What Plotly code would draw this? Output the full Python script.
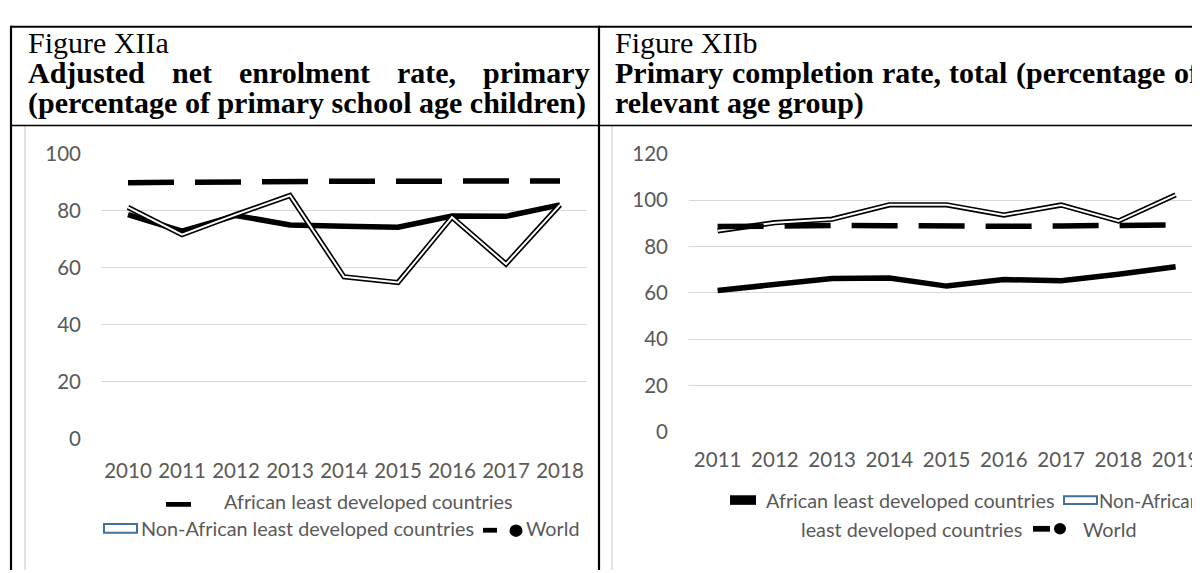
import plotly.graph_objects as go

# ---------------- data ----------------
years_a = ["2010", "2011", "2012", "2013", "2014", "2015", "2016", "2017", "2018"]
african_a = [78.6, 72.8, 78.3, 75.0, 74.5, 74.2, 78.1, 78.0, 82.0]
non_african_a = [81.1, 71.6, 78.6, 85.3, 56.8, 54.8, 77.7, 61.3, 82.0]
world_a = [89.8, 90.0, 90.2, 90.3, 90.3, 90.3, 90.4, 90.5, 90.4]

years_b = ["2011", "2012", "2013", "2014", "2015", "2016", "2017", "2018", "2019"]
african_b = [61.0, 63.7, 66.2, 66.4, 62.9, 65.7, 65.2, 68.0, 71.3]
non_african_b = [86.8, 90.3, 91.8, 98.0, 98.0, 93.6, 97.9, 91.0, 102.3]
world_b = [88.6, 89.1, 89.1, 89.0, 88.7, 88.7, 88.9, 89.0, 89.3]

ticks_a = [0, 20, 40, 60, 80, 100]
ticks_b = [0, 20, 40, 60, 80, 100, 120]

W, H = 1200, 573
OFF = 8  # page body margin offset
def px(x):
    return (x - OFF) / W
def py(y):
    return 1 - (y - OFF) / H

TICK_FONT = dict(family="Lato", size=20.5, color="#595959")
LEG_FONT = dict(family="Lato", size=19.8, color="#595959")
SERIF = "Liberation Serif"

fig = go.Figure()

def add_series(xs, african, non_african, world, xa, ya):
    fig.add_trace(go.Scatter(x=xs, y=african, mode="lines", xaxis=xa, yaxis=ya,
                             line=dict(color="black", width=5.5), showlegend=False))
    fig.add_trace(go.Scatter(x=xs, y=non_african, mode="lines", xaxis=xa, yaxis=ya,
                             line=dict(color="black", width=5.3), showlegend=False))
    fig.add_trace(go.Scatter(x=xs, y=non_african, mode="lines", xaxis=xa, yaxis=ya,
                             line=dict(color="white", width=2), showlegend=False))
    fig.add_trace(go.Scatter(x=xs, y=world, mode="lines", xaxis=xa, yaxis=ya,
                             line=dict(color="black", width=5.5, dash="46px,21px"),
                             showlegend=False))

add_series(years_a, african_a, non_african_a, world_a, "x", "y")
add_series(years_b, african_b, non_african_b, world_b, "x2", "y2")

grid = dict(showgrid=True, gridcolor="#d9d9d9", gridwidth=1.3, zeroline=False,
            showline=False, ticks="", tickfont=TICK_FONT, fixedrange=True)

SP_B = 57.25
fig.update_layout(
    width=W, height=H, margin=dict(l=0, r=0, t=0, b=0),
    paper_bgcolor="white", plot_bgcolor="white", showlegend=False,
    xaxis=dict(domain=[px(101), px(587)], range=[-0.5, 8.5], type="category",
               showgrid=False, showline=False, ticks="", tickfont=TICK_FONT,
               ticklabelstandoff=17, anchor="y"),
    yaxis=dict(domain=[py(444.3), py(146.3)], range=[0, 100], tickvals=ticks_a,
               ticklabelstandoff=19, anchor="x", **grid),
    xaxis2=dict(domain=[px(689), 1.0], range=[-0.5, (W + OFF - 689) / SP_B - 0.5],
                type="category", showgrid=False, showline=False, ticks="",
                tickfont=TICK_FONT, ticklabelstandoff=14, anchor="y2"),
    yaxis2=dict(domain=[py(436.7), py(146.7)], range=[0, 120], tickvals=ticks_b,
                ticklabelstandoff=20, anchor="x2", **grid),
)

shapes = []
def line(x0, y0, x1, y1, color="black", width=2):
    shapes.append(dict(type="line", xref="paper", yref="paper",
                       x0=px(x0), y0=py(y0), x1=px(x1), y1=py(y1),
                       line=dict(color=color, width=width), layer="above"))
def rect(x0, y0, x1, y1, fill="black", lc="black", lw=0):
    shapes.append(dict(type="rect", xref="paper", yref="paper",
                       x0=px(x0), y0=py(y0), x1=px(x1), y1=py(y1),
                       fillcolor=fill, line=dict(color=lc, width=lw), layer="above"))
def circle(cx, cy, r):
    shapes.append(dict(type="circle", xref="paper", yref="paper",
                       x0=px(cx - r), y0=py(cy + r), x1=px(cx + r), y1=py(cy - r),
                       fillcolor="black", line=dict(color="black", width=0), layer="above"))

BOT = H + OFF
# chart area borders
line(25, 117, 25, BOT, color="#d9d9d9", width=1.5)
line(612, 117, 612, BOT, color="#d9d9d9", width=1.5)
# table borders
line(11, 14, W + OFF, 14, width=2.2)
line(11, 13, 11, BOT, width=2.2)
line(599, 13, 599, BOT, width=2.2)
line(11, 117, W + OFF, 117, width=1.6)

# legend symbols (left)
rect(166, 510, 191, 515)
rect(104, 533, 137, 542, fill="white", lc="#41719C", lw=2)
rect(483, 537, 497, 542)
circle(516, 540, 6.5)
# legend symbols (right)
rect(730, 503, 756, 513)
rect(1064, 504, 1097, 512, fill="white", lc="#41719C", lw=2)
rect(1033, 535, 1050, 541)
circle(1060, 538, 6)

fig.update_layout(shapes=shapes)

ann = []
def text(x, y, s, font, xanchor="left"):
    ann.append(dict(xref="paper", yref="paper", x=px(x), y=py(y), text=s, showarrow=False,
                    xanchor=xanchor, yanchor="middle", font=font))

# legend texts
text(222, 509, "African least developed countries", LEG_FONT)
text(139, 537, "Non-African least developed countries", LEG_FONT)
text(524, 537, "World", LEG_FONT)
text(764, 508, "African least developed countries", LEG_FONT)
text(1097, 508, "Non-African", dict(LEG_FONT, size=18.8))
text(799, 538, "least developed countries", LEG_FONT)
text(1081, 538, "World", LEG_FONT)

# titles
TFS = 30
reg = dict(family=SERIF, size=TFS, color="black")
bold = dict(family=SERIF, size=TFS, color="black", weight="bold")
text(26, 30, "Figure XIIa", reg)
text(613, 30, "Figure XIIb", reg)

def justified(words, widths_em, x0, x1, y):
    total = sum(widths_em) * TFS
    gap = (x1 - x0 - total) / (len(words) - 1)
    x = x0
    for w, we in zip(words, widths_em):
        text(x, y, "<b>%s</b>" % w, bold)
        x += we * TFS + gap

justified(["Adjusted", "net", "enrolment", "rate,", "primary"],
          [3.889, 1.333, 4.388, 1.971, 3.555], 26, 588, 62)
text(26, 94, "<b>(percentage of primary school age children)</b>", bold)
justified(["Primary", "completion", "rate,", "total", "(percentage", "of"],
          [3.61, 4.722, 1.971, 1.944, 4.998, 0.833], 613, 1197, 62)
text(613, 94, "<b>relevant age group)</b>", bold)

fig.update_layout(annotations=ann)
fig.write_html("out.html")
